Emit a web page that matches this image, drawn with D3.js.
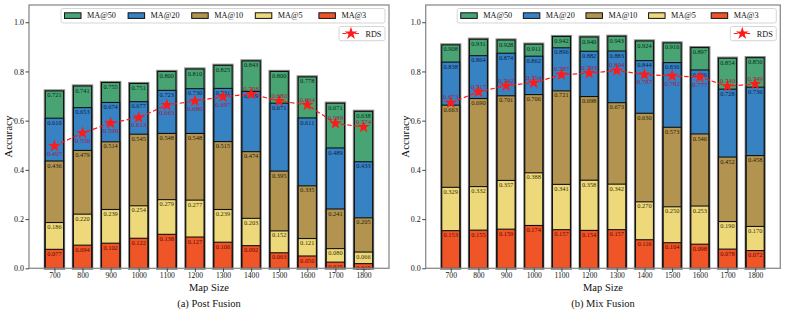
<!DOCTYPE html>
<html><head><meta charset="utf-8">
<script src="https://cdn.jsdelivr.net/npm/d3@7"></script>
<style>body{margin:0;background:#fff}svg{display:block}text{font-family:"Liberation Serif","Times New Roman",serif}</style>
</head><body><svg id="c" width="789" height="314"></svg>
<script>
const mapSizes = [700,800,900,1000,1100,1200,1300,1400,1500,1600,1700,1800];
const seriesNames = ["MA@50","MA@20","MA@10","MA@5","MA@3"];
const seriesColors = ["#48a573","#3782c3","#b29450","#edd87a","#f05528"];
const labelColors = ["#0b2a16","#0a1f45","#2b2105","#3a3206","#5c0a00"];

// (a) Post Fusion
const postMA50 = [0.721,0.741,0.755,0.751,0.800,0.810,0.825,0.843,0.800,0.778,0.671,0.638];
const postMA20 = [0.610,0.653,0.674,0.677,0.723,0.730,0.731,0.719,0.671,0.611,0.489,0.433];
const postMA10 = [0.436,0.479,0.514,0.545,0.548,0.548,0.515,0.474,0.395,0.335,0.241,0.205];
const postMA5  = [0.186,0.220,0.239,0.254,0.279,0.277,0.239,0.203,0.152,0.121,0.080,0.066];
const postMA3  = [0.077,0.094,0.102,0.122,0.138,0.127,0.106,0.092,0.063,0.050,0.025,0.019];
const postRDS  = [0.497,0.550,0.590,0.613,0.663,0.680,0.697,0.708,0.680,0.664,0.589,0.574];
const postRDSLabelAbove = [0,0,0,0,0,0,0,1,1,1,1,1];

// (b) Mix Fusion
const mixMA50 = [0.908,0.931,0.928,0.911,0.942,0.940,0.943,0.924,0.916,0.897,0.854,0.856];
const mixMA20 = [0.838,0.864,0.874,0.862,0.896,0.882,0.883,0.844,0.836,0.806,0.728,0.736];
const mixMA10 = [0.663,0.690,0.701,0.706,0.721,0.698,0.673,0.630,0.573,0.546,0.452,0.458];
const mixMA5  = [0.329,0.332,0.357,0.388,0.341,0.358,0.342,0.270,0.250,0.253,0.190,0.170];
const mixMA3  = [0.153,0.155,0.159,0.174,0.157,0.154,0.157,0.116,0.104,0.098,0.078,0.072];
const mixRDS  = [0.673,0.717,0.742,0.754,0.787,0.793,0.804,0.787,0.782,0.777,0.740,0.749];
const mixRDSLabelAbove = [1,1,1,1,1,1,1,0,0,0,1,1];

const yTicks = [0.0,0.2,0.4,0.6,0.8,1.0];

const panels = [
  {left:29, right:389, caption:"(a) Post Fusion", series:[postMA50,postMA20,postMA10,postMA5,postMA3], rds:postRDS, above:postRDSLabelAbove},
  {left:425.7, right:780.3, caption:"(b) Mix Fusion", series:[mixMA50,mixMA20,mixMA10,mixMA5,mixMA3], rds:mixRDS, above:mixRDSLabelAbove}
];

const svg = d3.select("#c");
const yTop = 5, yBottom = 268.3;
const barW = 65;

panels.forEach(p => {
  const x = d3.scaleLinear().domain([609.5, 1890.75]).range([p.left, p.right]);
  const y = d3.scaleLinear().domain([0, 1.07]).range([yBottom, yTop]);
  const g = svg.append("g");
  const bw = x(barW) - x(0);

  // bars
  mapSizes.forEach((s, i) => {
    const cx = x(s);
    g.append("rect").attr("x", cx - bw/2).attr("y", y(p.series[0][i])).attr("width", bw)
      .attr("height", y(0) - y(p.series[0][i])).attr("fill", "none").attr("stroke", "#8a8a8a").attr("stroke-width", 3.2);
    p.series.forEach((arr, k) => {
      g.append("rect").attr("x", cx - bw/2).attr("y", y(arr[i])).attr("width", bw)
        .attr("height", y(0) - y(arr[i])).attr("fill", seriesColors[k])
        .attr("stroke", "#111").attr("stroke-width", 1.1);
    });
  });

  // segment labels
  mapSizes.forEach((s, i) => {
    p.series.forEach((arr, k) => {
      g.append("text").attr("x", x(s)).attr("y", y(arr[i]) + 6.6)
        .attr("text-anchor", "middle").attr("font-size", 6.4).attr("fill", labelColors[k])
        .text(arr[i].toFixed(3));
    });
  });

  // RDS line
  const line = d3.line().x((d, i) => x(mapSizes[i])).y(d => y(d));
  g.append("path").datum(p.rds).attr("d", line).attr("fill", "none")
    .attr("stroke", "#ff1a1a").attr("stroke-width", 1.2).attr("stroke-dasharray", "4.5,2.5");
  const star = d3.symbol().type(d3.symbolStar).size(50);
  p.rds.forEach((v, i) => {
    g.append("path").attr("d", star).attr("transform", `translate(${x(mapSizes[i])},${y(v)})`).attr("fill", "#ff1a1a");
    g.append("text").attr("x", x(mapSizes[i])).attr("y", p.above[i] ? y(v) - 3.2 : y(v) + 9.8)
      .attr("text-anchor", "middle").attr("font-size", 6.9).attr("fill", "#9b1f4f").text(v.toFixed(3));
  });

  // frame
  g.append("rect").attr("x", p.left).attr("y", yTop).attr("width", p.right - p.left).attr("height", yBottom - yTop)
    .attr("fill", "none").attr("stroke", "#8c8c8c").attr("stroke-width", 1.3);

  // axes
  const xa = g.append("g").attr("transform", `translate(0,${yBottom})`)
    .call(d3.axisBottom(x).tickValues(mapSizes).tickSize(3.5).tickSizeOuter(0).tickFormat(d3.format("d")));
  xa.select(".domain").remove();
  xa.selectAll("line").attr("stroke", "#444");
  xa.selectAll("text").attr("font-size", 7.6).attr("fill", "#111").attr("dy", "0.71em").attr("y", 4.8);

  const ya = g.append("g").attr("transform", `translate(${p.left},0)`)
    .call(d3.axisLeft(y).tickValues(yTicks).tickSize(3.5).tickSizeOuter(0).tickFormat(d3.format(".1f")));
  ya.select(".domain").remove();
  ya.selectAll("line").attr("stroke", "#444");
  ya.selectAll("text").attr("font-size", 8).attr("fill", "#111").attr("x", -5);

  // axis titles
  g.append("text").attr("x", (p.left + p.right) / 2).attr("y", 291).attr("text-anchor", "middle")
    .attr("font-size", 10.5).attr("fill", "#111").text("Map Size");
  g.append("text").attr("transform", `translate(${p.left - 17},${(yTop + yBottom) / 2}) rotate(-90)`)
    .attr("text-anchor", "middle").attr("font-size", 11).attr("fill", "#111").text("Accuracy");
  g.append("text").attr("x", (p.left + p.right) / 2).attr("y", 307).attr("text-anchor", "middle")
    .attr("font-size", 10.5).attr("fill", "#111").text(p.caption);

  // legend (top)
  const lx0 = p.left + (p.right - p.left) * 0.0889, lx1 = p.right - 4;
  const lg = g.append("g");
  lg.append("rect").attr("x", lx0).attr("y", 8.5).attr("width", lx1 - lx0).attr("height", 14.5).attr("rx", 2)
    .attr("fill", "rgba(255,255,255,0.85)").attr("stroke", "#d0d0d0").attr("stroke-width", 0.9);
  const colW = (lx1 - lx0 - 6) / 5;
  seriesNames.forEach((n, k) => {
    const ex = lx0 + 3.5 + k * colW;
    lg.append("rect").attr("x", ex).attr("y", 12.8).attr("width", 16.5).attr("height", 5.6)
      .attr("fill", seriesColors[k]).attr("stroke", "#111").attr("stroke-width", 1);
    lg.append("text").attr("x", ex + 22.5).attr("y", 18.4).attr("font-size", 8.2).attr("fill", "#111").text(n);
  });
  // RDS legend
  const rx0 = lx1 - 46;
  lg.append("rect").attr("x", rx0).attr("y", 26.5).attr("width", 46).attr("height", 14.2).attr("rx", 2)
    .attr("fill", "rgba(255,255,255,0.85)").attr("stroke", "#d0d0d0").attr("stroke-width", 0.9);
  lg.append("line").attr("x1", rx0 + 3.5).attr("x2", rx0 + 20.5).attr("y1", 33.5).attr("y2", 33.5)
    .attr("stroke", "#ff1a1a").attr("stroke-width", 1.2).attr("stroke-dasharray", "4,2.2");
  lg.append("path").attr("d", star).attr("transform", `translate(${rx0 + 12},33.5)`).attr("fill", "#ff1a1a");
  lg.append("text").attr("x", rx0 + 26.5).attr("y", 36.5).attr("font-size", 8.2).attr("fill", "#111").text("RDS");
});
</script></body></html>
